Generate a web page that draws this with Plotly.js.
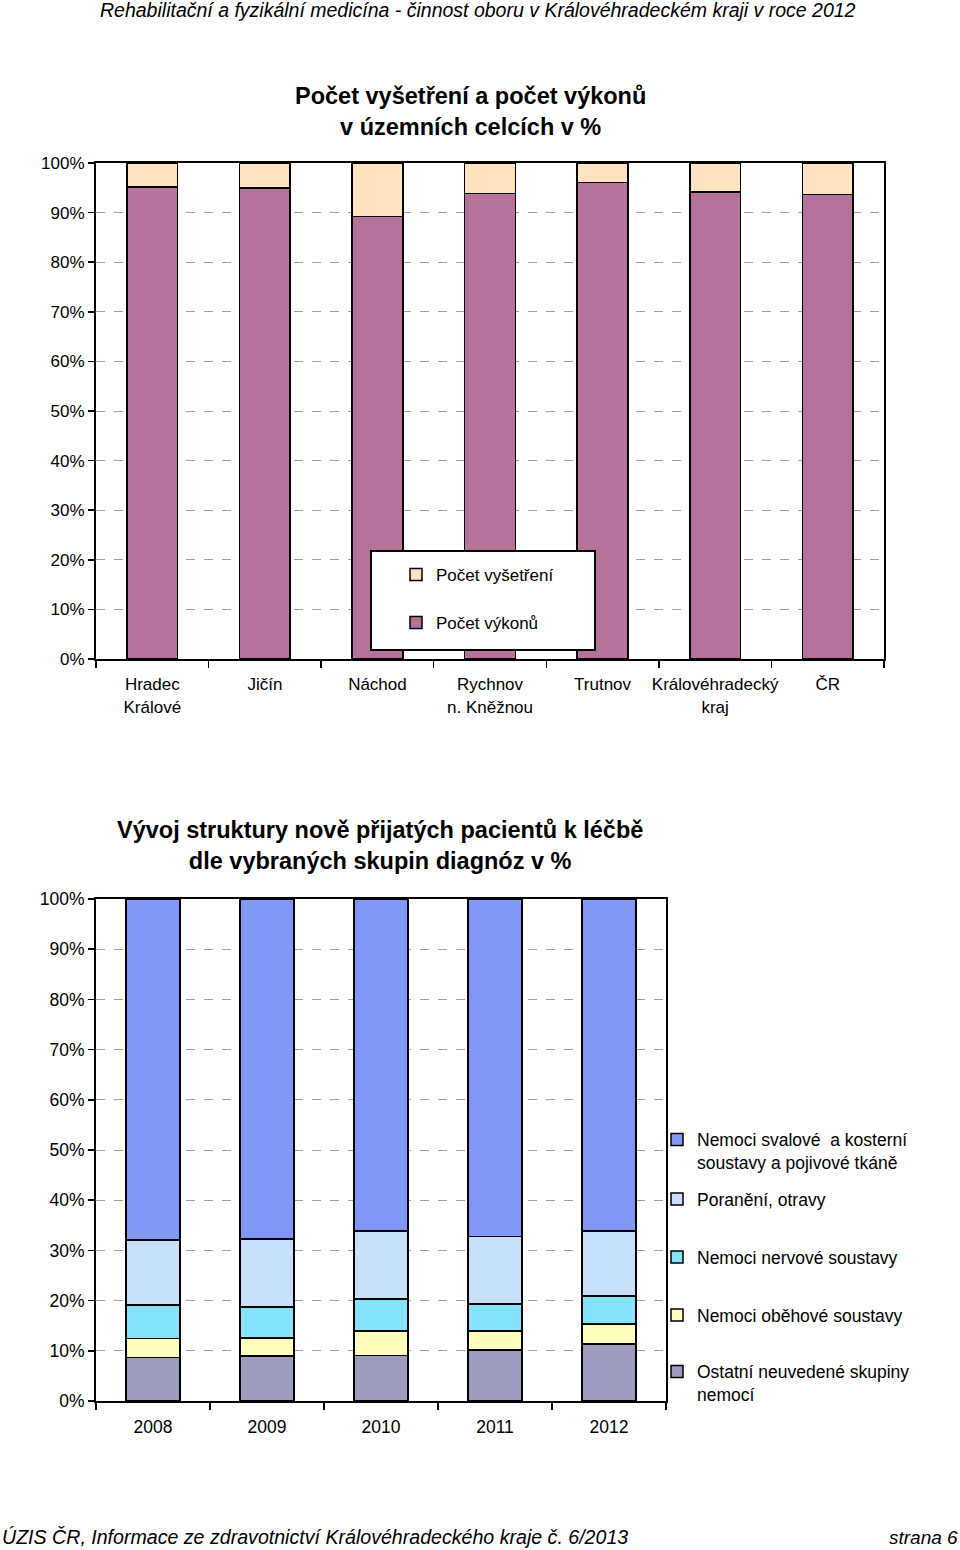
<!DOCTYPE html>
<html>
<head>
<meta charset="utf-8">
<script src="https://cdn.plot.ly/plotly-3.0.1.min.js"></script>
<style>html,body{margin:0;padding:0;background:#fff;}#chart{width:960px;height:1550px;}</style>
</head>
<body>
<div id="chart"></div>
<script>
// ---- Chart 1 data ----
var regions = ["Hradec<br>Králové", "Jičín", "Náchod", "Rychnov<br>n. Kněžnou", "Trutnov", "Královéhradecký<br>kraj", "ČR"];
var vykonu = [95.2, 95.0, 89.2, 93.9, 96.1, 94.2, 93.7];
var vysetreni = [4.8, 5.0, 10.8, 6.1, 3.9, 5.8, 6.3];

// ---- Chart 2 data ----
var years = ["2008", "2009", "2010", "2011", "2012"];
var ostatni = [8.7, 9.0, 9.1, 10.2, 11.4];
var obehove = [3.8, 3.6, 4.8, 3.7, 3.9];
var nervove = [6.6, 6.1, 6.4, 5.4, 5.6];
var poraneni = [13.0, 13.6, 13.6, 13.5, 13.0];
var svalove = [67.9, 67.7, 66.1, 67.2, 66.1];

var pctTicks = [0, 10, 20, 30, 40, 50, 60, 70, 80, 90, 100];
var pctLabels = ["0%", "10%", "20%", "30%", "40%", "50%", "60%", "70%", "80%", "90%", "100%"];

var W = 960, H = 1550;
function px(x) { return x / W; }
function py(y) { return (H - y) / H; }

var ARIAL = "Liberation Sans, Arial, sans-serif";
var line = {color: "#000", width: 1.5};

var traces = [
  {type: "bar", x: regions, y: vykonu, name: "Počet výkonů", xaxis: "x", yaxis: "y",
   width: 0.45, marker: {color: "#b5729a", line: line}, legend: "legend2"},
  {type: "bar", x: regions, y: vysetreni, name: "Počet vyšetření", xaxis: "x", yaxis: "y",
   width: 0.45, marker: {color: "#ffe2c0", line: line}, legend: "legend"},

  {type: "bar", x: years, y: ostatni, name: "Ostatní neuvedené skupiny<br>nemocí", xaxis: "x2", yaxis: "y2",
   width: 0.47, marker: {color: "#9c9cbc", line: line}, legend: "legend7"},
  {type: "bar", x: years, y: obehove, name: "Nemoci oběhové soustavy", xaxis: "x2", yaxis: "y2",
   width: 0.47, marker: {color: "#ffffbe", line: line}, legend: "legend6"},
  {type: "bar", x: years, y: nervove, name: "Nemoci nervové soustavy", xaxis: "x2", yaxis: "y2",
   width: 0.47, marker: {color: "#86e2f8", line: line}, legend: "legend5"},
  {type: "bar", x: years, y: poraneni, name: "Poranění, otravy", xaxis: "x2", yaxis: "y2",
   width: 0.47, marker: {color: "#c8dffa", line: line}, legend: "legend4"},
  {type: "bar", x: years, y: svalove, name: "Nemoci svalové  a kosterní<br>soustavy a pojivové tkáně", xaxis: "x2", yaxis: "y2",
   width: 0.47, marker: {color: "#8298f6", line: line}, legend: "legend3"}
];

function legendAt(textX, yCenter, size) {
  return {visible: true, x: px(textX - 40), y: py(yCenter), xanchor: "left", yanchor: "middle",
          bgcolor: "rgba(0,0,0,0)", borderwidth: 0, font: {family: ARIAL, size: size, color: "#000"},
          valign: "top", itemwidth: 30};
}

var yaxisCommon = {
  range: [0, 100], tickvals: pctTicks, ticktext: pctLabels, ticks: "outside", ticklen: 6, tickwidth: 1.5,
  tickcolor: "#000", showline: true, linecolor: "#000", linewidth: 2, mirror: true,
  showgrid: true, gridcolor: "#a0a0a0", gridwidth: 1, griddash: "dash", zeroline: false, fixedrange: true
};
var xaxisCommon = {
  type: "category", tickson: "boundaries", ticks: "outside", ticklen: 7, tickwidth: 1.5, tickcolor: "#000",
  showline: true, linecolor: "#000", linewidth: 2, mirror: true, showgrid: false, fixedrange: true,
  tickangle: 0, ticklabelstandoff: 9
};

var layout = {
  width: W, height: H, autosize: false,
  margin: {l: 0, r: 0, t: 0, b: 0},
  paper_bgcolor: "#fff", plot_bgcolor: "#fff",
  barmode: "stack",
  showlegend: true,
  xaxis: Object.assign({}, xaxisCommon, {domain: [px(96), px(884)], anchor: "y",
    tickfont: {family: ARIAL, size: 17, color: "#000"}}),
  yaxis: Object.assign({}, yaxisCommon, {domain: [py(659), py(163)], anchor: "x",
    tickfont: {family: ARIAL, size: 17, color: "#000"}}),
  xaxis2: Object.assign({}, xaxisCommon, {domain: [px(96), px(666)], anchor: "y2",
    tickfont: {family: ARIAL, size: 17.5, color: "#000"}}),
  yaxis2: Object.assign({}, yaxisCommon, {domain: [py(1401), py(899)], anchor: "x2",
    tickfont: {family: ARIAL, size: 17.5, color: "#000"}}),
  legend: legendAt(436, 575, 17),
  legend2: legendAt(436, 623, 17),
  legend3: legendAt(697, 1151, 17.5),
  legend4: legendAt(697, 1199, 17.5),
  legend5: legendAt(697, 1257, 17.5),
  legend6: legendAt(697, 1315, 17.5),
  legend7: legendAt(697, 1383, 17.5),
  shapes: [
    {type: "rect", xref: "paper", yref: "paper", x0: px(371), x1: px(595), y0: py(650), y1: py(551),
     fillcolor: "#fff", line: {color: "#000", width: 2}, layer: "above"}
  ],
  annotations: [
    {text: "<i>Rehabilitační a fyzikální medicína - činnost oboru v Královéhradeckém kraji v roce 2012</i>",
     xref: "paper", yref: "paper", x: px(478), y: py(10), xanchor: "center", yanchor: "middle", showarrow: false,
     font: {family: ARIAL, size: 19.5, color: "#000"}},
    {text: "<b>Počet vyšetření a počet výkonů<br>v územních celcích v %</b>",
     xref: "paper", yref: "paper", x: px(470), y: py(111), xanchor: "center", yanchor: "middle", showarrow: false,
     font: {family: ARIAL, size: 23.5, color: "#000"}},
    {text: "<b>Vývoj struktury nově přijatých pacientů k léčbě<br>dle vybraných skupin diagnóz v %</b>",
     xref: "paper", yref: "paper", x: px(380), y: py(845), xanchor: "center", yanchor: "middle", showarrow: false,
     font: {family: ARIAL, size: 23.5, color: "#000"}},
    {text: "<i>ÚZIS ČR, Informace ze zdravotnictví Královéhradeckého kraje č. 6/2013</i>",
     xref: "paper", yref: "paper", x: 0, y: py(1537), xanchor: "left", yanchor: "middle", showarrow: false,
     font: {family: ARIAL, size: 19.6, color: "#000"}},
    {text: "<i>strana 6</i>",
     xref: "paper", yref: "paper", x: 1, y: py(1537), xanchor: "right", yanchor: "middle", showarrow: false,
     font: {family: ARIAL, size: 19, color: "#000"}}
  ]
};

Plotly.newPlot("chart", traces, layout, {displayModeBar: false, staticPlot: true});
</script>
</body>
</html>
